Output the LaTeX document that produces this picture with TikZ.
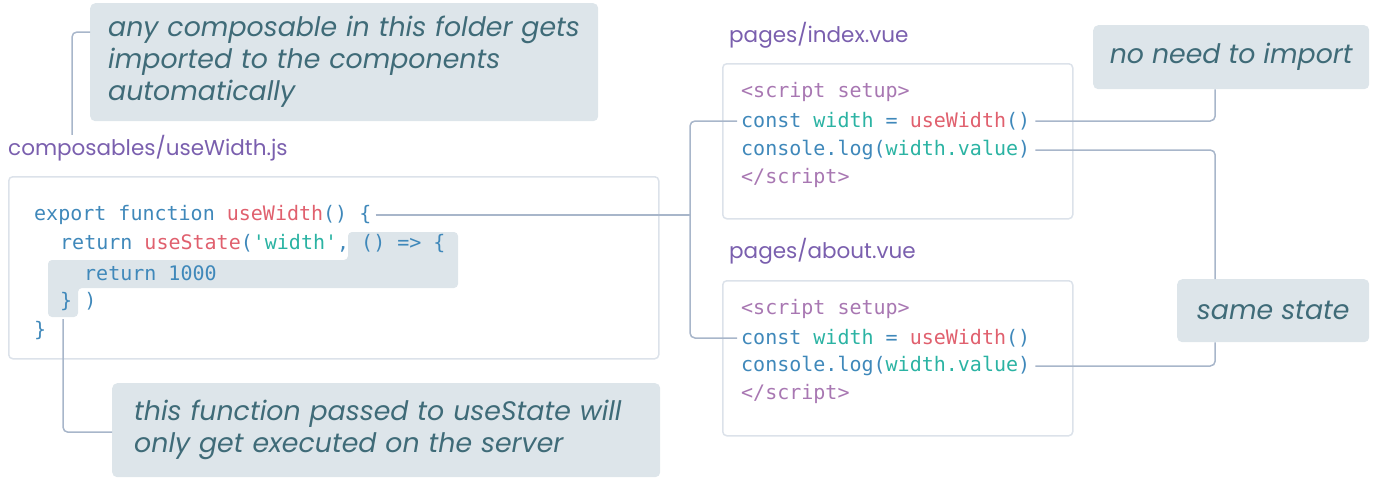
\documentclass[tikz,border=0pt]{standalone}
\usepackage{fontspec}
\setmainfont{Poppins}
\setmonofont{DejaVu Sans Mono}
\usetikzlibrary{positioning}
\definecolor{notebg}{HTML}{DDE5EA}
\definecolor{notefg}{HTML}{3F6B78}
\definecolor{fname}{HTML}{7A5FAE}
\definecolor{kw}{HTML}{3F88BA}
\definecolor{fn}{HTML}{E0606E}
\definecolor{str}{HTML}{2BB3A3}
\definecolor{tag}{HTML}{A877B2}
\definecolor{wire}{HTML}{A8B6CA}
\definecolor{frame}{HTML}{DCE2EA}
\tikzset{
  note/.style={fill=notebg, rounded corners=5pt, text=notefg, inner sep=0pt,
    font=\fontsize{26.8}{32}\selectfont\itshape},
  codebox/.style={draw=frame, line width=1.5pt, rounded corners=4pt, anchor=north west},
  code/.style={anchor=west, inner sep=0pt, font=\fontsize{20}{24}\ttfamily},
  file/.style={anchor=west, inner sep=0pt, text=fname, font=\fontsize{21.5}{24}\selectfont},
  wire/.style={draw=wire, line width=1.5pt, rounded corners=5pt}
}
\begin{document}
\begin{tikzpicture}[x=1pt, y=-1pt]
  \useasboundingbox (0,0) rectangle (1381,477);
  % notes
  \node [note, anchor=north west, minimum width=508, minimum height=118, text width=472, align=left] (folder) at (90,3)
    {any composable in this folder gets\\ imported to the components\\ automatically};
  \node [note, anchor=north west, minimum width=548, minimum height=94, text width=504, align=left] (server) at (112,383)
    {this function passed to useState will\\ only get executed on the server};
  \node [note, anchor=north west, minimum width=276, minimum height=64] (noimport) at (1093,25) {no need to import};
  \node [note, anchor=north west, minimum width=192, minimum height=63] (same) at (1177,279) {same state};
  % file names and boxes
  \node [file] (usefile) at (8,148) {composables/useWidth.js};
  \node [file] (idxfile) at (729,35) {pages/index.vue};
  \node [file] (abtfile) at (729,251) {pages/about.vue};
  \node [codebox, minimum width=650, minimum height=182] (usebox) at (8,176) {};
  \node [codebox, minimum width=350, minimum height=155] (idxbox) at (722,63) {};
  \node [codebox, minimum width=350, minimum height=155] (abtbox) at (722,280) {};
  % highlighted callback
  \fill [notebg, rounded corners=4pt] (348,232) -- (458,232) -- (458,288) -- (78,288) -- (78,317)
    -- (48,317) -- (48,260) -- (348,260) -- cycle;
  \coordinate (cb) at (63,319);
  % composable
  \node [code] (exp) at (34,215) {\textcolor{kw}{export function} \textcolor{fn}{useWidth}\textcolor{kw}{() \{}};
  \node [code] (ret) at (60,244) {\textcolor{kw}{return} \textcolor{fn}{useState}\textcolor{kw}{(}\textcolor{str}{'width'}\textcolor{kw}{,} \textcolor{kw}{() => \{}};
  \node [code, text=kw] (val) at (84,273) {return 1000};
  \node [code, text=kw] (inner) at (60,302) {\} )};
  \node [code, text=kw] (outer) at (34,331) {\}};
  % index.vue
  \node [code, text=tag] (idxopen) at (741,92) {<script setup>};
  \node [code] (idxconst) at (741,121) {\textcolor{kw}{const} \textcolor{str}{width} \textcolor{kw}{=} \textcolor{fn}{useWidth}\textcolor{kw}{()}};
  \node [code] (idxlog) at (741,150) {\textcolor{kw}{console.log(}\textcolor{str}{width.value}\textcolor{kw}{)}};
  \node [code, text=tag] (idxclose) at (741,178) {</script>};
  % about.vue
  \node [code, text=tag] (abtopen) at (741,309) {<script setup>};
  \node [code] (abtconst) at (741,338) {\textcolor{kw}{const} \textcolor{str}{width} \textcolor{kw}{=} \textcolor{fn}{useWidth}\textcolor{kw}{()}};
  \node [code] (abtlog) at (741,366) {\textcolor{kw}{console.log(}\textcolor{str}{width.value}\textcolor{kw}{)}};
  \node [code, text=tag] (abtclose) at (741,394) {</script>};
  % connectors
  \coordinate (fork) at (690,215);
  \draw [wire] ([yshift=-29pt]folder.north west) -| ([xshift=64pt]usefile.north west);
  \draw [wire] (cb) |- ([yshift=-2pt]server.west);
  \draw [wire] ([xshift=4pt]exp.east) -- (fork);
  \draw [wire] ([xshift=-4pt]idxconst.west) -| (fork) |- ([xshift=-4pt]abtconst.west);
  \draw [wire] ([xshift=5pt]idxconst.east) -| ([xshift=-16pt]noimport.south);
  \draw [wire] ([xshift=5pt]idxlog.east) -| ([xshift=-58pt]same.north);
  \draw [wire] ([xshift=5pt]abtlog.east) -| ([xshift=-58pt]same.south);
\end{tikzpicture}
\end{document}
